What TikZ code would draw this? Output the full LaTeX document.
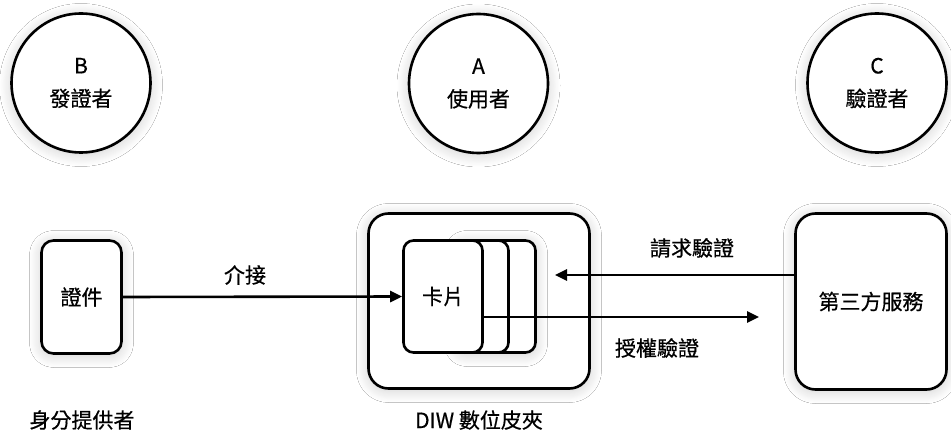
\documentclass[tikz,border=0pt]{standalone}
\usepackage{fontspec}
\setmainfont{Noto Sans CJK TC}[FakeBold=0.6]
\usetikzlibrary{arrows.meta,shadows.blur}
\tikzset{
  softshadow/.style={blur shadow={shadow xshift=0pt, shadow yshift=-2pt, shadow blur radius=12pt, shadow blur steps=14, shadow opacity=20}},
  actor/.style={circle, draw, line width=2.6pt, fill=white, minimum size=139pt, inner sep=0pt, align=center,
    font=\fontsize{21}{33}\selectfont, softshadow},
  roundbox/.style={draw, line width=2.6pt, fill=white, inner sep=0pt, align=center,
    font=\fontsize{21}{24}\selectfont},
  lbl/.style={inner sep=0pt, font=\fontsize{21}{24}\selectfont},
  conn/.style={line width=2.6pt, -{Triangle[length=12pt,width=11pt]}}
}
\begin{document}
\begin{tikzpicture}[x=1pt,y=-1pt]
\useasboundingbox[fill=white] (0,0) rectangle (951,430);

% actors
\node[actor] (B) at (81,83) {B\\發證者};
\node[actor] (A) at (478.5,83.5) {A\\使用者};
\node[actor] (C) at (877,83) {C\\驗證者};

% boxes
\node[roundbox, softshadow, rounded corners=12pt, minimum width=80pt, minimum height=113pt] (doc) at (81.5,297) {證件};
\node[roundbox, softshadow, rounded corners=20pt, minimum width=221pt, minimum height=175pt] (diw) at (479,301) {};
\node[roundbox, softshadow, rounded corners=20pt, minimum width=151pt, minimum height=176pt] (svc) at (871,301.5) {第三方服務};

% card stack
\node[roundbox, softshadow, rounded corners=10pt, minimum width=79pt, minimum height=112pt] (card3) at (496,296.5) {};
\node[roundbox, rounded corners=10pt, minimum width=79pt, minimum height=112pt] (card2) at (469,296.5) {};
\node[roundbox, rounded corners=10pt, minimum width=79pt, minimum height=112pt] (card1) at (443,296.5) {卡片};

% connector ends
\coordinate (reqend) at (555,275);
\coordinate (authend) at (759,317);

% connectors
\draw[conn] (doc.east) -- (card1.west);
\draw[conn] (svc.west |- reqend) -- (reqend);
\draw[conn] (card1.east |- authend) -- (authend);

% labels
\node[lbl] (l1) at (245,275) {介接};
\node[lbl] (l2) at (692,248) {請求驗證};
\node[lbl] (l3) at (657,348) {授權驗證};
\node[lbl] (l4) at (82,420) {身分提供者};
\node[lbl] (l5) at (479,420) {DIW 數位皮夾};
\end{tikzpicture}
\end{document}
